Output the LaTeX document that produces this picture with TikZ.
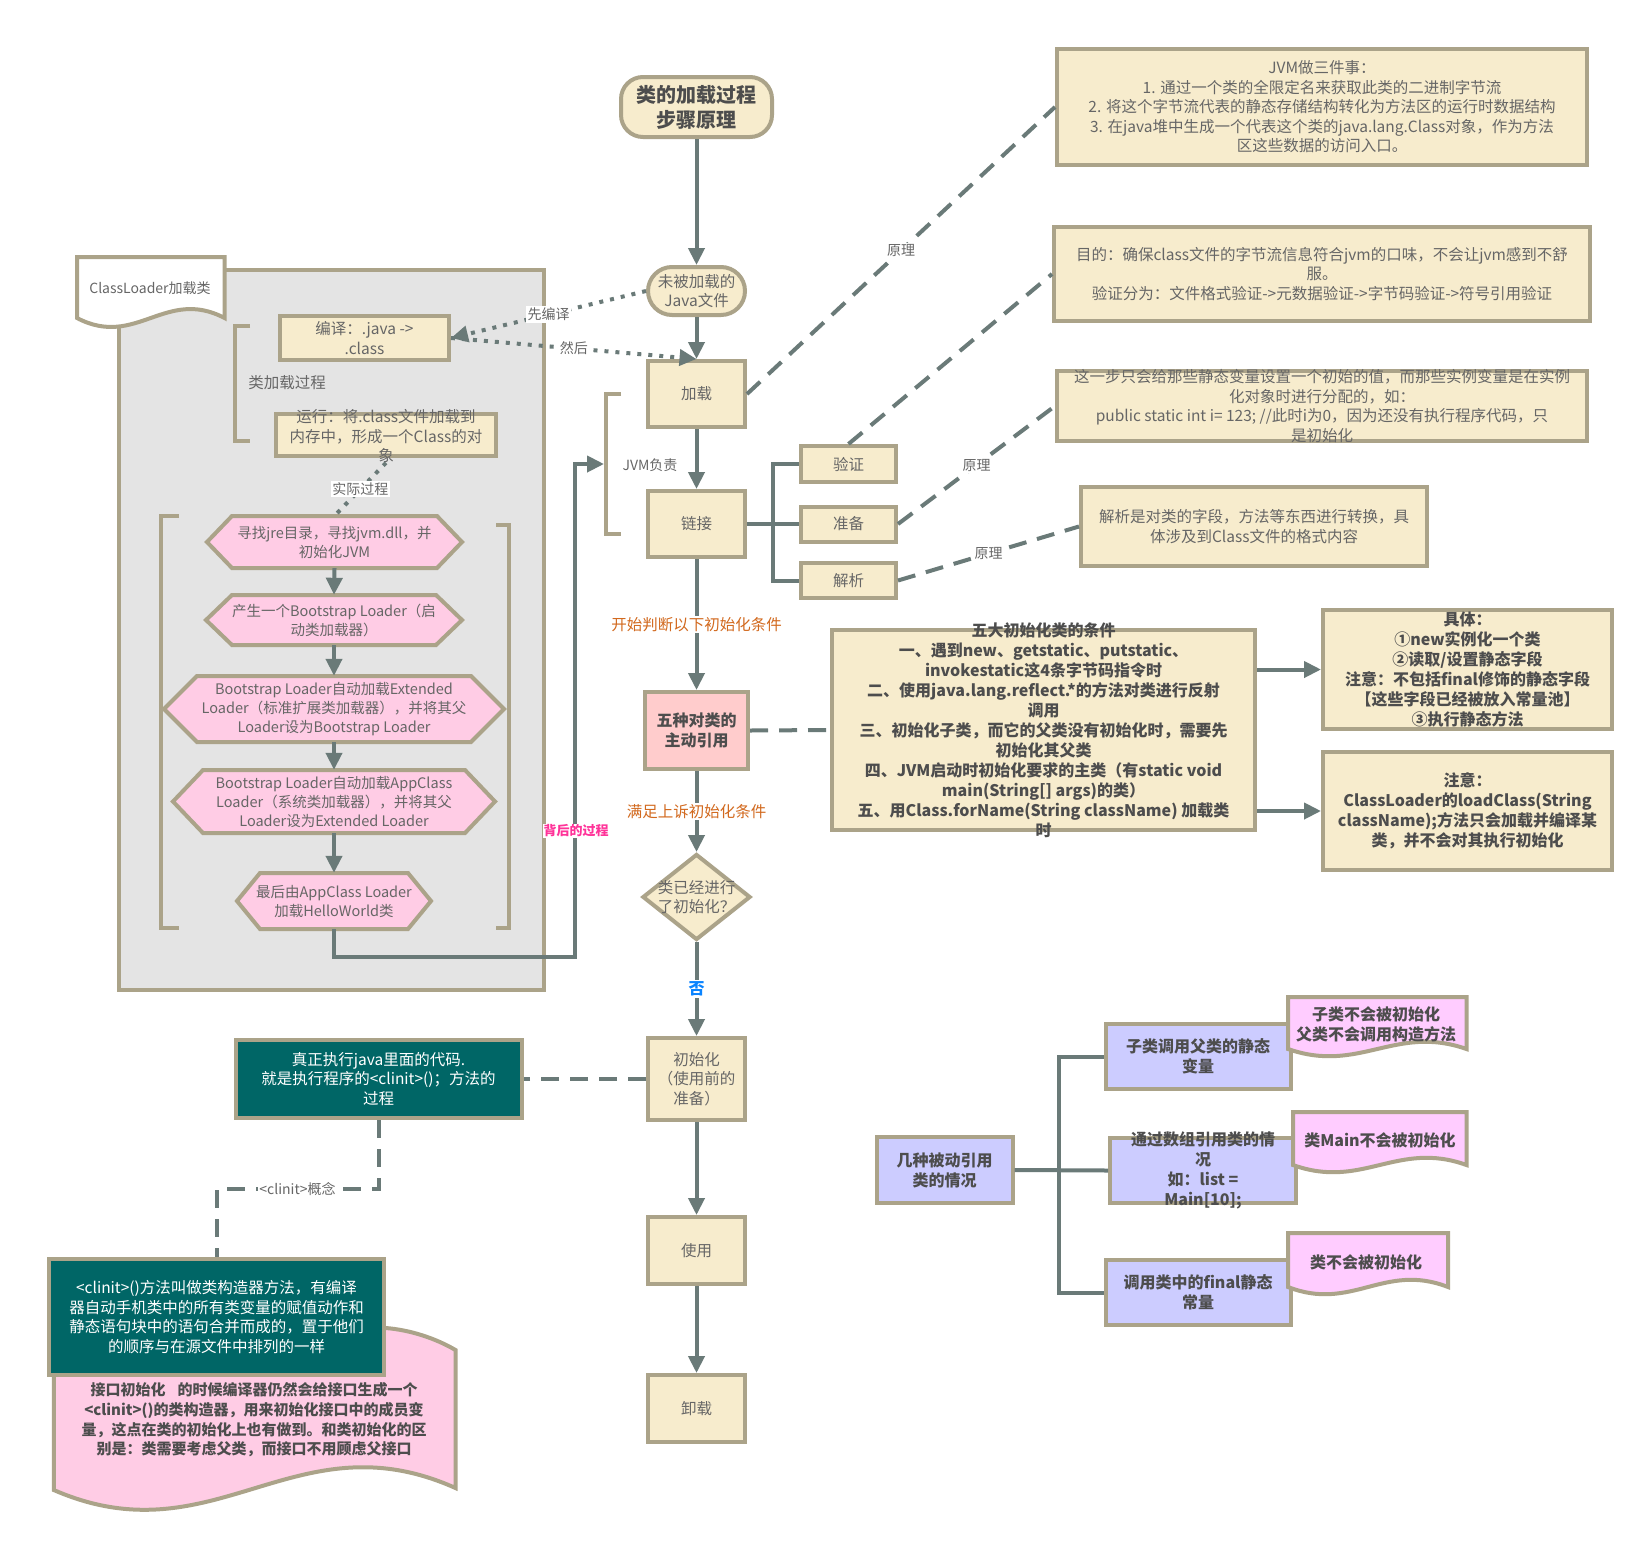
\documentclass[tikz,border=0pt]{standalone}
\usepackage{fontspec}
\setmainfont{Noto Sans CJK SC}
\usetikzlibrary{arrows.meta,shapes.geometric}
\definecolor{bord}{HTML}{ABA389}
\definecolor{beige}{HTML}{F7ECCD}
\definecolor{lineg}{HTML}{6A7A78}
\definecolor{txtg}{HTML}{666666}
\definecolor{txtd}{HTML}{4D4D4D}
\definecolor{tealc}{HTML}{006666}
\definecolor{pinkhex}{HTML}{FFCCE5}
\definecolor{pinkdoc}{HTML}{FFCCFF}
\definecolor{lav}{HTML}{CCCCFF}
\definecolor{rose}{HTML}{FFCCCC}
\definecolor{panelc}{HTML}{E4E4E4}
\definecolor{orangel}{HTML}{D2691E}
\definecolor{bluel}{HTML}{0A84FF}
\definecolor{magl}{HTML}{FF3399}
\newcommand\fsn{\fontsize{15.5}{19.5}\selectfont}
\newcommand\fsh{\fontsize{14.5}{19}\selectfont}
\newcommand\fsl{\fontsize{14}{18}\selectfont}
\newcommand\fsb{\fontsize{16}{20}\selectfont\bfseries}
\newcommand\fst{\fontsize{20}{25}\selectfont\bfseries}
\newcommand\hexnd[7]{%
  \filldraw[hexsty] ({#2-#4},#3) -- ({#2-#4+#6},{#3-#5}) -- ({#2+#4-#6},{#3-#5}) -- ({#2+#4},#3) -- ({#2+#4-#6},{#3+#5}) -- ({#2-#4+#6},{#3+#5}) -- cycle;
  \node[tx, font=\fsh, minimum width={2*#4}, minimum height={2*#5}] (#1) at (#2,#3) {#7};
}
\newcommand\docpath[6]{%
  \filldraw[#6] (#1,#2) -- (#3,#2) -- (#3,#4) .. controls ({#3-0.4*(#3-#1)},{#4-#5}) and ({#1+0.4*(#3-#1)},{#4+#5}) .. (#1,#4) -- cycle;
}
\begin{document}
\begin{tikzpicture}[x=1pt,y=-1pt,
  box/.style={draw=bord, line width=4pt, fill=beige, text=txtg, align=center, inner sep=2pt, font=\fsn},
  tx/.style={text=txtg, align=center, inner sep=0pt, font=\fsn},
  txb/.style={text=txtd, align=center, inner sep=0pt, font=\fsb},
  conn/.style={draw=lineg, line width=4pt},
  arr/.style={conn, -{Triangle[length=17pt,width=16pt]}},
  dsh/.style={conn, dash pattern=on 18pt off 11pt},
  dotl/.style={conn, dash pattern=on 4pt off 7pt, -{Triangle[length=17pt,width=16pt]}},
  lbl/.style={fill=white, text=txtg, inner sep=1.5pt, font=\fsl},
  brk/.style={draw=bord, line width=4pt},
  hexsty/.style={draw=bord, line width=4pt, fill=pinkhex},
  docsty/.style={draw=bord, line width=4pt, fill=pinkdoc},
  lavbox/.style={box, fill=lav, text=txtd, font=\fsb},
  tealbox/.style={box, fill=tealc, text=white},
]
\useasboundingbox (0,0) rectangle (1645,1542);
\fill[white] (0,0) rectangle (1645,1542);

% ---------- left panel ----------
\node[draw=bord, line width=4pt, fill=panelc, minimum width=425, minimum height=720, inner sep=0pt] (panel) at (331,630) {};
\docpath{77}{257}{224.5}{318}{31}{draw=bord, line width=4pt, fill=white}
\node[tx, font=\fsl] (cldoc) at (150,288) {ClassLoader加载类};

\node[box, minimum width=169, minimum height=44] (compile) at (364.5,338) {编译：.java ->\\.class};
\node[box, minimum width=220, minimum height=42] (run) at (386,435) {};
\node[tx] (runt) at (386,436) {运行：将.class文件加载到\\内存中，形成一个Class的对\\象};
\draw[brk] (250,326) -- (235,326) -- (235,441) -- (250,441);
\node[tx] (lcp) at (287,383) {类加载过程};

\draw[brk] (179,516) -- (161,516) -- (161,928) -- (179,928);
\draw[brk] (496,525) -- (509,525) -- (509,928) -- (496,928);

\hexnd{h1}{334.5}{542}{127.5}{26}{25}{寻找jre目录，寻找jvm.dll，并\\初始化JVM}
\hexnd{h2}{334}{620}{128}{25}{26}{产生一个Bootstrap Loader（启\\动类加载器）}
\hexnd{h3}{334}{709}{170}{33}{33}{Bootstrap Loader自动加载Extended\\Loader（标准扩展类加载器），并将其父\\Loader设为Bootstrap Loader}
\hexnd{h4}{334}{801.5}{161}{31.5}{30}{Bootstrap Loader自动加载AppClass\\Loader（系统类加载器），并将其父\\Loader设为Extended Loader}
\hexnd{h5}{334}{901}{97}{28}{23}{最后由AppClass Loader\\加载HelloWorld类}
\draw[arr] (h1.south) -- (h2.north);
\draw[arr] (h2.south) -- (h3.north);
\draw[arr] (h3.south) -- (h4.north);
\draw[arr] (h4.south) -- (h5.north);
\draw[conn, dash pattern=on 4pt off 7pt] (runt.south) -- node[midway, lbl] (lsj) {实际过程} (h1.north);

% ---------- main column ----------
\node[box, rounded corners=22pt, minimum width=151, minimum height=60, font=\fst, text=txtd] (title) at (696.5,107) {类的加载过程\\步骤原理};
\node[box, rounded corners=24pt, minimum width=97, minimum height=48] (unl) at (696.5,291) {未被加载的\\Java文件};
\node[box, minimum width=97, minimum height=66] (load) at (696.5,394) {加载};
\node[box, minimum width=97, minimum height=66] (link) at (696.5,524) {链接};
\node[box, fill=rose, text=txtd, font=\fsb, minimum width=103, minimum height=77] (five) at (696.5,730.5) {五种对类的\\主动引用};
\node[diamond, draw=bord, line width=4pt, fill=beige, minimum width=108, minimum height=86, inner sep=0pt] (dia) at (696.5,897) {};
\node[tx] (diat) at (696.5,897) {类已经进行\\了初始化？};
\node[box, minimum width=97, minimum height=82] (init) at (696.5,1079) {初始化\\（使用前的\\准备）};
\node[box, minimum width=97, minimum height=67] (use) at (696.5,1250.5) {使用};
\node[box, minimum width=97, minimum height=67] (unload) at (696.5,1408.5) {卸载};

\draw[arr] (title.south) -- (unl.north);
\draw[arr] (unl.south) -- (load.north);
\draw[arr] (load.south) -- (link.north);
\draw[arr] (link.south) -- node[midway, fill=white, text=orangel, font=\fsn, inner sep=1.5pt] (lks) {开始判断以下初始化条件} (five.north);
\draw[arr] (five.south) -- node[midway, fill=white, text=orangel, font=\fsn, inner sep=1.5pt] (lmz) {满足上诉初始化条件} (dia.north);
\draw[arr] (dia.south) -- node[midway, fill=white, text=bluel, font=\fsb, inner sep=1.5pt] (lno) {否} (init.north);
\draw[arr] (init.south) -- (use.north);
\draw[arr] (use.south) -- (unload.north);

% dotted links
\draw[dotl] (unl.west) -- node[midway, lbl] (lxb) {先编译} (compile.east);
\draw[dotl] (compile.east) -- node[midway, lbl] (lrh) {然后} (load.north);

% JVM bracket
\draw[brk] (621,394) -- (606,394) -- (606,534) -- (621,534);
\coordinate (jvmbr) at (604,464);
\node[tx, font=\fsl] (ljvm) at (650,465) {JVM负责};
\coordinate (bend) at (575,957);
\draw[arr] (h5.south) |- (bend) |- (jvmbr);
\node[fill=white, text=magl, font=\fontsize{13}{16}\selectfont\bfseries, inner sep=1pt] (lbg) at (576,831) {背后的过程};

% ---------- linking sub steps ----------
\node[box, minimum width=95, minimum height=36] (verify) at (848.5,464) {验证};
\node[box, minimum width=95, minimum height=35] (prep) at (848.5,524) {准备};
\node[box, minimum width=95, minimum height=35] (resolve) at (848.5,580.5) {解析};
\coordinate (lk) at (773,524);
\draw[conn] (link.east) -- (prep.west);
\draw[conn] (verify.west) -| (lk) |- (resolve.west);

% ---------- right boxes ----------
\node[box, minimum width=530, minimum height=116] (jvm) at (1322,107) {JVM做三件事：\\1. 通过一个类的全限定名来获取此类的二进制字节流\\2. 将这个字节流代表的静态存储结构转化为方法区的运行时数据结构\\3. 在java堆中生成一个代表这个类的java.lang.Class对象，作为方法\\区这些数据的访问入口。};
\node[box, minimum width=536, minimum height=94] (goal) at (1322,274) {目的：确保class文件的字节流信息符合jvm的口味，不会让jvm感到不舒\\服。\\验证分为：文件格式验证->元数据验证->字节码验证->符号引用验证};
\node[box, minimum width=530, minimum height=70] (prepb) at (1322,406) {};
\node[tx] (prept) at (1322,406) {这一步只会给那些静态变量设置一个初始的值，而那些实例变量是在实例\\化对象时进行分配的，如：\\public static int i= 123; //此时i为0，因为还没有执行程序代码，只\\是初始化};
\node[box, minimum width=346, minimum height=79] (resb) at (1254,526.5) {解析是对类的字段，方法等东西进行转换，具\\体涉及到Class文件的格式内容};

\draw[dsh] (load.east) -- node[midway, lbl] (ly1) {原理} (jvm.west);
\draw[dsh] (verify.north) -- (goal.west);
\draw[dsh] (prep.east) -- node[midway, lbl] (ly2) {原理} (prepb.west);
\draw[dsh] (resolve.east) -- node[midway, lbl] (ly3) {原理} (resb.west);

\node[box, minimum width=423, minimum height=200] (cond) at (1043.5,730) {};
\node[txb] (condt) at (1043.5,730) {五大初始化类的条件\\一、遇到new、getstatic、putstatic、\\invokestatic这4条字节码指令时\\二、使用java.lang.reflect.*的方法对类进行反射\\调用\\三、初始化子类，而它的父类没有初始化时，需要先\\初始化其父类\\四、JVM启动时初始化要求的主类（有static void\\main(String[] args)的类）\\五、用Class.forName(String className) 加载类\\时};
\node[box, minimum width=289, minimum height=119] (spec) at (1467.5,669.5) {};
\node[txb] (spect) at (1467.5,669.5) {具体：\\①new实例化一个类\\②读取/设置静态字段\\注意：不包括final修饰的静态字段\\【这些字段已经被放入常量池】\\③执行静态方法};
\node[box, minimum width=289, minimum height=118] (note) at (1467.5,811) {};
\node[txb] (notet) at (1467.5,811) {注意：\\ClassLoader的loadClass(String\\className);方法只会加载并编译某\\类，并不会对其执行初始化};
\draw[dsh] (five.east) -- (cond.west);
\draw[arr] (cond.east |- spec.west) -- (spec.west);
\draw[arr] (cond.east |- note.west) -- (note.west);

% ---------- bottom left ----------
\filldraw[draw=bord, line width=4pt, fill=pinkhex] (53.8,1328) -- (386,1328) .. controls (410,1330) and (435,1338) .. (455.5,1350) -- (455.5,1488) .. controls (294.8,1416) and (214.5,1560) .. (53.8,1490) -- cycle;
\node[txb, font=\fontsize{15}{19.7}\selectfont\bfseries] (pinkt) at (254,1420) {接口初始化\hspace{0.8em}的时候编译器仍然会给接口生成一个\\<clinit>()的类构造器，用来初始化接口中的成员变\\量，这点在类的初始化上也有做到。和类初始化的区\\别是：类需要考虑父类，而接口不用顾虑父接口};
\node[tealbox, minimum width=286, minimum height=78] (exec) at (378.5,1079) {真正执行java里面的代码.\\就是执行程序的<clinit>()；方法的\\过程};
\node[tealbox, minimum width=335, minimum height=116] (clinit) at (216.5,1317) {<clinit>()方法叫做类构造器方法，有编译\\器自动手机类中的所有类变量的赋值动作和\\静态语句块中的语句合并而成的，置于他们\\的顺序与在源文件中排列的一样};
\draw[dsh] (init.west) -- (exec.east);
\draw[dsh] (exec.south) -- ++(0,69) -| node[pos=0.25, lbl] (lcl) {<clinit>概念} (clinit.north);

% ---------- passive references ----------
\node[lavbox, minimum width=136, minimum height=66] (passive) at (944.7,1170) {几种被动引用\\类的情况};
\node[lavbox, minimum width=185, minimum height=65] (sub) at (1198,1056.5) {子类调用父类的静态\\变量};
\node[lavbox, minimum width=186, minimum height=65] (arrb) at (1203,1170.5) {};
\node[txb] (arrt) at (1203,1170.5) {通过数组引用类的情\\况\\如：list =\\Main[10];};
\node[lavbox, minimum width=185, minimum height=65] (fin) at (1198,1292.5) {调用类中的final静态\\常量};
\coordinate (pk) at (1059,1170);
\draw[conn] (passive.east) -- (arrb.west);
\draw[conn] (sub.west) -| (pk) |- (fin.west);

\docpath{1288}{997}{1466.5}{1049}{25}{docsty}
\node[txb] (d1) at (1376,1024) {子类不会被初始化\\父类不会调用构造方法};
\docpath{1293}{1112}{1466.5}{1165}{25}{docsty}
\node[txb] (d2) at (1380,1140) {类Main不会被初始化};
\docpath{1288}{1233}{1448}{1287}{25}{docsty}
\node[txb] (d3) at (1366,1262) {类不会被初始化};
\end{tikzpicture}
\end{document}
